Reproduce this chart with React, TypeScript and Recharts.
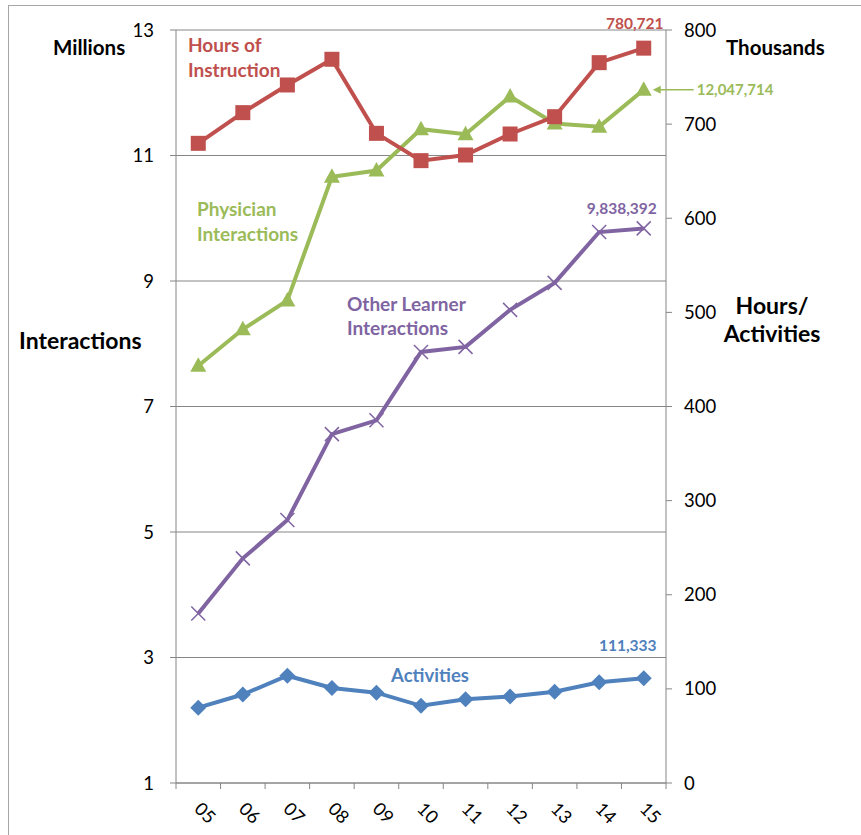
import React from 'react';
import {
  ComposedChart,
  Line,
  XAxis,
  YAxis,
  CartesianGrid,
  LabelList,
} from 'recharts';

// Fiscal years (two-digit labels)
const years = ['05', '06', '07', '08', '09', '10', '11', '12', '13', '14', '15'];

// Right axis, thousands
const hoursOfInstruction = [679.6, 712.2, 741.6, 768.9, 690.2, 661.2, 667.2, 689.5, 707.9, 765.3, 780.721];
const activities = [80, 94, 114, 101, 96, 82, 89, 92, 97, 107, 111.333];

// Left axis, millions
const physicianInteractions = [7.65, 8.23, 8.69, 10.66, 10.76, 11.42, 11.34, 11.94, 11.51, 11.46, 12.047714];
const otherLearnerInteractions = [3.7, 4.58, 5.19, 6.56, 6.78, 7.87, 7.95, 8.54, 8.97, 9.78, 9.838392];

const leftTicks = [1, 3, 5, 7, 9, 11, 13];
const rightTicks = [0, 100, 200, 300, 400, 500, 600, 700, 800];

const RED = '#C0504D';
const GREEN = '#9BBB59';
const PURPLE = '#8064A2';
const BLUE = '#4F81BD';
const AXIS = '#868686';
const FONT = 'Lato, "Open Sans", sans-serif';

const data = years.map((y, i) => ({
  idx: i,
  year: y,
  hours: hoursOfInstruction[i],
  activities: activities[i],
  physician: physicianInteractions[i],
  other: otherLearnerInteractions[i],
}));

// category centres get labels, half steps get the tick marks between years
const xTicks: number[] = [];
for (let i = -0.5; i <= years.length - 0.5; i += 0.5) xTicks.push(i);

const last = years.length - 1;
const fmt = (n: number) => Math.round(n).toLocaleString('en-US');

function YearTick(props: any) {
  const { x, y, payload } = props;
  const v = payload.value;
  if (!Number.isInteger(v)) {
    return <line x1={x} x2={x} y1={y} y2={y + 6} stroke={AXIS} strokeWidth={1} />;
  }
  return (
    <text
      transform={`translate(${x - 5},${y + 27}) rotate(45)`}
      fontSize={18}
      fontFamily={FONT}
      fill="#000"
      textAnchor="start"
    >
      {years[v]}
    </text>
  );
}

const SquareDot = (p: any) =>
  p.cx == null ? null : (
    <rect key={`sq-${p.index}`} x={p.cx - 7.5} y={p.cy - 7.5} width={15} height={15} fill={RED} />
  );
const TriangleDot = (p: any) =>
  p.cx == null ? null : (
    <polygon
      key={`tr-${p.index}`}
      points={`${p.cx},${p.cy - 8.5} ${p.cx + 8},${p.cy + 6} ${p.cx - 8},${p.cy + 6}`}
      fill={GREEN}
    />
  );
const CrossDot = (p: any) =>
  p.cx == null ? null : (
    <g key={`x-${p.index}`} stroke={PURPLE} strokeWidth={1.5}>
      <line x1={p.cx - 7} y1={p.cy - 7} x2={p.cx + 7} y2={p.cy + 7} />
      <line x1={p.cx - 7} y1={p.cy + 7} x2={p.cx + 7} y2={p.cy - 7} />
    </g>
  );
const DiamondDot = (p: any) =>
  p.cx == null ? null : (
    <polygon
      key={`dm-${p.index}`}
      points={`${p.cx},${p.cy - 8} ${p.cx + 8},${p.cy} ${p.cx},${p.cy + 8} ${p.cx - 8},${p.cy}`}
      fill={BLUE}
    />
  );

// value callouts on the final year
const endLabel = (color: string, scale: number, dx: number, dy: number) => (p: any) => {
  if (p.index !== last) return null;
  return (
    <text
      x={p.x + dx}
      y={p.y + dy}
      textAnchor="middle"
      fontSize={15.5}
      fontWeight={700}
      fontFamily={FONT}
      fill={color}
    >
      {fmt(Number(p.value) * scale)}
    </text>
  );
};

const physicianEndLabel = (p: any) => {
  if (p.index !== last) return null;
  return (
    <g>
      <line x1={p.x + 50} y1={p.y} x2={p.x + 14} y2={p.y} stroke={GREEN} strokeWidth={1.5} />
      <polygon
        points={`${p.x + 9},${p.y} ${p.x + 17},${p.y - 4} ${p.x + 17},${p.y + 4}`}
        fill={GREEN}
      />
      <text
        x={p.x + 53}
        y={p.y + 5}
        textAnchor="start"
        fontSize={15}
        fontWeight={700}
        fontFamily={FONT}
        fill={GREEN}
      >
        {fmt(Number(p.value) * 1e6)}
      </text>
    </g>
  );
};

const txt = (
  left: number,
  top: number,
  lines: string[],
  color: string,
  size: number,
  align: 'left' | 'center' = 'left',
  lineHeight = 25
) => (
  <div
    style={{
      position: 'absolute',
      left,
      top,
      color,
      fontFamily: FONT,
      fontWeight: 700,
      fontSize: size,
      lineHeight: `${lineHeight}px`,
      textAlign: align,
      whiteSpace: 'nowrap',
      transform: align === 'center' ? 'translateX(-50%)' : undefined,
    }}
  >
    {lines.map((l) => (
      <div key={l}>{l}</div>
    ))}
  </div>
);

export default function App() {
  return (
    <div
      style={{
        position: 'absolute',
        left: 0,
        top: 0,
        width: 861,
        height: 835,
        background: '#fff',
        overflow: 'hidden',
      }}
    >
      <div
        style={{
          position: 'absolute',
          left: 8,
          top: 5,
          width: 900,
          height: 900,
          borderLeft: '1px solid #a6a6a6',
          borderTop: '1px solid #a6a6a6',
        }}
      />
      <ComposedChart
        width={861}
        height={835}
        data={data}
        margin={{ top: 30, right: 0, bottom: 0, left: 0 }}
        style={{ position: 'absolute', left: 0, top: 0 }}
      >
        <CartesianGrid yAxisId="left" vertical={false} stroke={AXIS} strokeWidth={1} />
        <XAxis
          dataKey="idx"
          type="number"
          domain={[-0.5, years.length - 0.5]}
          ticks={xTicks}
          interval={0}
          tickLine={false}
          tickSize={0}
          tickMargin={0}
          axisLine={{ stroke: AXIS }}
          height={52}
          tick={<YearTick />}
        />
        <YAxis
          yAxisId="left"
          orientation="left"
          width={176}
          domain={[1, 13]}
          ticks={leftTicks}
          interval={0}
          tickSize={6}
          tickMargin={16}
          tickLine={{ stroke: AXIS }}
          axisLine={{ stroke: AXIS }}
          tick={{ fill: '#000', fontSize: 18.5, fontFamily: FONT }}
        />
        <YAxis
          yAxisId="right"
          orientation="right"
          width={195}
          domain={[0, 800]}
          ticks={rightTicks}
          interval={0}
          tickSize={6}
          tickMargin={12}
          tickLine={{ stroke: AXIS }}
          axisLine={{ stroke: AXIS }}
          tick={{ fill: '#000', fontSize: 18.5, fontFamily: FONT }}
        />
        <Line
          yAxisId="right"
          dataKey="activities"
          stroke={BLUE}
          strokeWidth={4}
          dot={DiamondDot}
          activeDot={false}
          isAnimationActive={false}
        >
          <LabelList dataKey="activities" content={endLabel(BLUE, 1000, -16, -27)} />
        </Line>
        <Line
          yAxisId="left"
          dataKey="other"
          stroke={PURPLE}
          strokeWidth={4}
          dot={CrossDot}
          activeDot={false}
          isAnimationActive={false}
        >
          <LabelList dataKey="other" content={endLabel(PURPLE, 1e6, -22, -14)} />
        </Line>
        <Line
          yAxisId="left"
          dataKey="physician"
          stroke={GREEN}
          strokeWidth={4}
          dot={TriangleDot}
          activeDot={false}
          isAnimationActive={false}
        >
          <LabelList dataKey="physician" content={physicianEndLabel} />
        </Line>
        <Line
          yAxisId="right"
          dataKey="hours"
          stroke={RED}
          strokeWidth={4}
          dot={SquareDot}
          activeDot={false}
          isAnimationActive={false}
        >
          <LabelList dataKey="hours" content={endLabel(RED, 1000, -9, -19)} />
        </Line>
      </ComposedChart>

      {/* axis titles */}
      {txt(53, 34.5, ['Millions'], '#000', 20.5)}
      {txt(726, 34.5, ['Thousands'], '#000', 20.5)}
      {txt(19, 327.5, ['Interactions'], '#000', 23)}
      {txt(772, 291, ['Hours/', 'Activities'], '#000', 23, 'center', 28)}

      {/* series names */}
      {txt(188, 32, ['Hours of', 'Instruction'], RED, 19)}
      {txt(197, 196, ['Physician', 'Interactions'], GREEN, 19)}
      {txt(347, 292, ['Other Learner', 'Interactions'], PURPLE, 19, 'left', 24)}
      {txt(430, 663, ['Activities'], BLUE, 18.5, 'center')}
    </div>
  );
}
